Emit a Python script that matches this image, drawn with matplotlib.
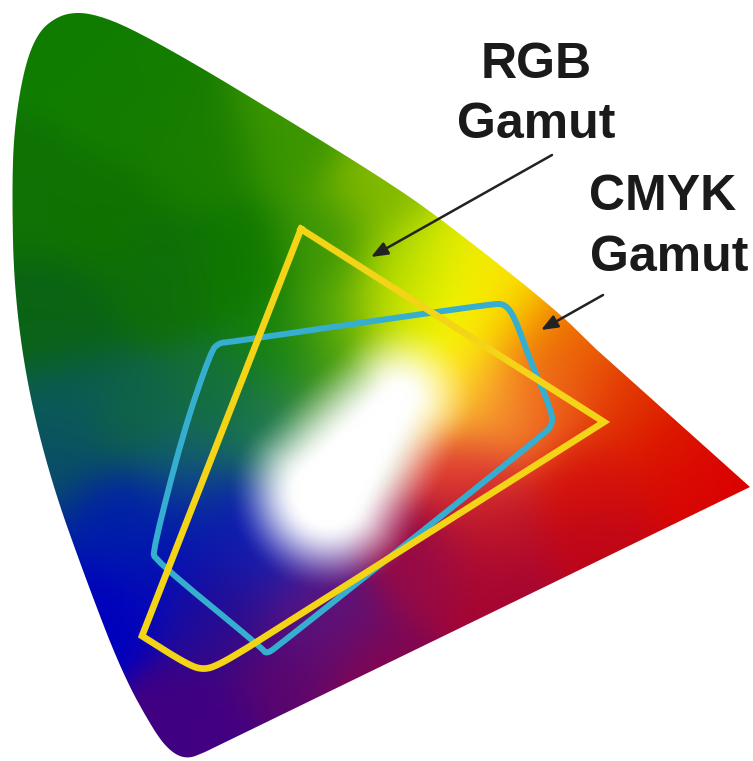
import numpy as np
import matplotlib
matplotlib.use("Agg")
import matplotlib.pyplot as plt
from matplotlib.path import Path
from matplotlib.patches import PathPatch

# horseshoe outline (pixels)
locus_tip = (750, 487)
locus_x = [597, 553, 440, 385, 288, 192, 130, 100, 78, 58, 38, 24, 14, 12, 14, 27, 51, 85, 122, 155, 172, 188, 205]
locus_y = [350, 307, 218, 180, 120, 62, 28, 16, 12, 16, 32, 68, 130, 192, 288, 385, 481, 577, 673, 733, 753, 759, 752]
rgb_x = [301, 604, 247]
rgb_y = [229, 422, 648]
rgb_foot_x = [247, 222, 205, 188, 142]
rgb_foot_y = [648, 663, 670, 665, 636]
cmyk_x = [360, 492, 505, 515, 530, 552, 552, 544, 277, 266, 262, 155, 153, 183, 211, 219, 230, 360]
cmyk_y = [323, 304, 304, 318, 360, 412, 425, 434, 647, 654, 648, 560, 550, 433, 351, 343, 342, 323]
anchor_x = [75, 30, 130, 200, 290, 385, 240, 330, 160, 60, 280, 340, 400, 100, 30, 60,
            130, 220, 60, 270, 330, 110, 190, 100, 170, 240, 270, 210, 150,
            220, 300, 330, 420, 500, 190, 280, 380, 230,
            600, 700, 745, 620, 680, 590, 490, 470, 570, 520, 560,
            450, 490, 440, 450, 490, 530, 410, 470, 500]
anchor_y = [40, 200, 100, 150, 130, 190, 270, 250, 280, 320, 350, 330, 310, 220, 320, 400,
            420, 400, 460, 430, 420, 520, 470, 610, 580, 540, 550, 520, 530,
            620, 600, 620, 560, 590, 720, 660, 680, 590,
            540, 500, 487, 400, 450, 480, 530, 470, 340, 320, 390,
            260, 285, 330, 380, 400, 400, 270, 300, 255]
anchor_r = [15, 15, 20, 25, 60, 130, 15, 60, 15, 10, 20, 90, 200, 15, 10, 10,
            15, 20, 10, 30, 90, 0, 20, 0, 5, 15, 25, 5, 0,
            45, 85, 100, 150, 165, 65, 90, 130, 30,
            190, 215, 220, 225, 220, 215, 190, 225, 235, 245, 235,
            215, 255, 255, 255, 250, 240, 170, 255, 250]
anchor_g = [125, 115, 125, 125, 150, 185, 120, 150, 110, 100, 130, 170, 225, 115, 100, 90,
            100, 110, 80, 120, 160, 30, 100, 0, 10, 30, 35, 25, 30,
            10, 25, 15, 10, 5, 0, 5, 5, 15,
            5, 5, 0, 50, 20, 20, 20, 60, 100, 150, 90,
            240, 250, 250, 240, 170, 110, 215, 250, 220]
anchor_b = [0, 5, 0, 0, 0, 0, 0, 5, 10, 20, 15, 10, 0, 0, 20, 90,
            70, 60, 100, 90, 50, 170, 110, 190, 185, 180, 175, 175, 170,
            140, 140, 110, 70, 50, 130, 110, 80, 150,
            25, 5, 0, 0, 0, 10, 40, 50, 0, 0, 20,
            0, 0, 0, 40, 50, 40, 0, 0, 0]
# the pale core of the horseshoe: two ends of its long axis and their half-widths
core_x = [328, 398]
core_y = [492, 398]
core_width = [30, 8]
core_fade = 72
title_lines = ["RGB", "Gamut", "CMYK", "Gamut"]


def soften(xs, ys, rounds=3):
    p = np.column_stack([xs, ys]).astype(float)
    for _ in range(rounds):
        a, b = p[:-1], p[1:]
        q = np.empty((2 * len(a), 2))
        q[0::2] = 0.75 * a + 0.25 * b
        q[1::2] = 0.25 * a + 0.75 * b
        p = np.vstack([p[0], q, p[-1]])
    return p


fig = plt.figure(figsize=(7.53, 7.61), dpi=100)
ax = fig.add_axes([0, 0, 1, 1])
ax.set_xlim(0, 753)
ax.set_ylim(761, 0)
ax.axis("off")

gx, gy = np.meshgrid(np.arange(0, 753, 2.0), np.arange(0, 761, 2.0))
ax_pts = np.array(anchor_x, float)[:, None, None]
ay_pts = np.array(anchor_y, float)[:, None, None]
w = np.exp(-((gx - ax_pts) ** 2 + (gy - ay_pts) ** 2) / (2 * 34.0 ** 2)) + 1e-12
cols = np.array([anchor_r, anchor_g, anchor_b], float) / 255
img = np.stack([(w * c[:, None, None]).sum(0) / w.sum(0) for c in cols], axis=-1)

dx, dy = core_x[1] - core_x[0], core_y[1] - core_y[0]
t = np.clip(((gx - core_x[0]) * dx + (gy - core_y[0]) * dy) / (dx * dx + dy * dy), 0, 1)
dist = np.hypot(gx - core_x[0] - t * dx, gy - core_y[0] - t * dy)
rad = core_width[0] + t * (core_width[1] - core_width[0])
s = np.clip(1 - (dist - rad) / core_fade, 0, 1)
s = s * s * (3 - 2 * s)
img = img * (1 - s[..., None]) + s[..., None]

im = ax.imshow(np.clip(img, 0, 1), extent=(0, 753, 761, 0), interpolation="bilinear", aspect="auto", zorder=1)

curve = soften(locus_x, locus_y)
outline = np.vstack([locus_tip, curve, locus_tip])
patch = PathPatch(Path(outline), fc="none", ec="none", transform=ax.transData)
ax.add_patch(patch)
im.set_clip_path(patch)

cy = soften(cmyk_x, cmyk_y, 2)
ax.plot(cy[:, 0], cy[:, 1], color="#35aed0", lw=4.3, solid_joinstyle="round", zorder=3)
foot = soften(rgb_foot_x, rgb_foot_y)
yel = np.vstack([np.column_stack([rgb_x, rgb_y]), foot, [rgb_x[0], rgb_y[0]]])
ax.plot(yel[:, 0], yel[:, 1], color="#f3d417", lw=4.8, solid_joinstyle="miter", zorder=4)

tf = dict(family="Liberation Sans", fontweight="bold", fontsize=36, color="#1a1a1a", ha="center", va="center", zorder=6)
ax.text(536, 65, title_lines[0], **tf)
ax.text(536, 125, title_lines[1], **tf)
ax.text(663, 197, title_lines[2], **tf)
ax.text(669, 258, title_lines[3], **tf)

for tail, head in [((552, 155), (371, 257)), ((603, 295), (541, 330))]:
    ax.annotate("", xy=head, xytext=tail, zorder=5,
                arrowprops=dict(arrowstyle="-|>,head_length=1.0,head_width=0.4", color="#222222", lw=1.8, shrinkA=0, shrinkB=0))

fig.savefig("out.png", dpi=100)
